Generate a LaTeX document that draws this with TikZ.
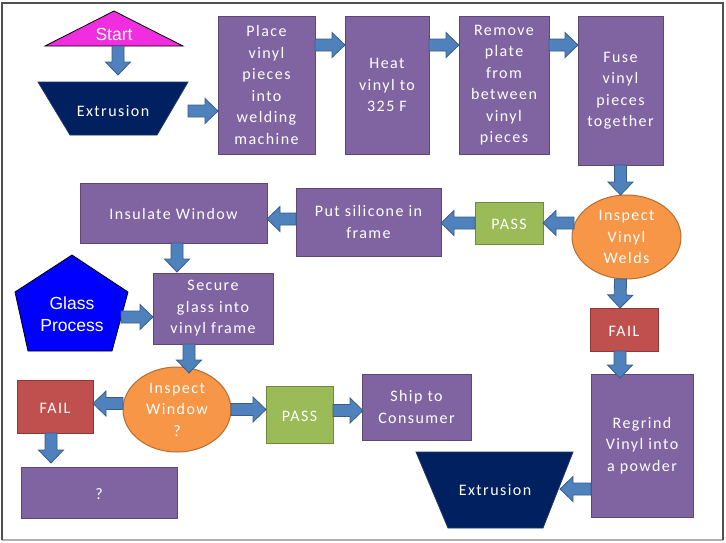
\documentclass[tikz,border=0pt]{standalone}
\usepackage{fontspec}
\setmainfont{Carlito}
\newfontfamily\lblfont[LetterSpace=9]{Carlito}
\newfontfamily\arialfont{Liberation Sans}
\usetikzlibrary{calc,shapes.geometric}
\definecolor{boxpurple}{HTML}{8064A2}
\definecolor{boxpurpleedge}{HTML}{5C4776}
\definecolor{passgreen}{HTML}{9BBB59}
\definecolor{passgreenedge}{HTML}{71893F}
\definecolor{failred}{HTML}{C0504D}
\definecolor{failrededge}{HTML}{8C3836}
\definecolor{inspectorange}{HTML}{F79646}
\definecolor{inspectorangeedge}{HTML}{B66D31}
\definecolor{extnavy}{HTML}{002060}
\definecolor{extnavyedge}{HTML}{1F3864}
\definecolor{startmagenta}{RGB}{240,46,224}
\definecolor{glassblue}{HTML}{0000FF}
\definecolor{arrowblue}{HTML}{4F81BD}
\definecolor{arrowedge}{HTML}{385D8A}
\definecolor{framedark}{HTML}{505050}
\definecolor{framelight}{HTML}{B0B0B0}
\tikzset{
  every node/.style={inner sep=0pt, outer sep=0pt},
  lbl/.style={text=white, align=center, font=\lblfont\fontsize{16}{21.5}\selectfont,
    execute at begin node={\rule{0pt}{14pt}}},
  ml/.style={execute at begin node={\rule{0pt}{20pt}}},
  box/.style={lbl, rectangle, fill=boxpurple, draw=boxpurpleedge, line width=1pt},
  passbox/.style={lbl, rectangle, fill=passgreen, draw=passgreenedge, line width=1pt},
  failbox/.style={lbl, rectangle, fill=failred, draw=failrededge, line width=1pt},
  inspect/.style={lbl, ellipse, fill=inspectorange, draw=inspectorangeedge, line width=1pt},
  extshape/.style={fill=extnavy, draw=extnavyedge, line width=0.8pt},
  arialtext/.style={text=white, align=center, font=\arialfont\fontsize{17.5}{21.5}\selectfont},
  barrow/.style={fill=arrowblue, draw=arrowedge, line width=0.8pt, line join=miter},
}
\newcommand\blockarrow[2]{%
  \coordinate (ba1) at (#1);
  \coordinate (ba2) at (#2);
  \coordinate (bah) at ($(ba2)!13pt!(ba1)$);
  \filldraw[barrow] ($(ba1)!6pt!90:(ba2)$) -- ($(bah)!6pt!90:(ba2)$) -- ($(bah)!12.5pt!90:(ba2)$) -- (ba2)
    -- ($(bah)!12.5pt!-90:(ba2)$) -- ($(bah)!6pt!-90:(ba2)$) -- ($(ba1)!6pt!-90:(ba2)$) -- cycle;
}
\begin{document}
\begin{tikzpicture}[x=1pt, y=-1pt]
\useasboundingbox (0,0) rectangle (726,542);
\fill[white] (0,0) rectangle (726,542);
% frame
\draw[framelight, line width=1.2pt] (2,540) -- (723,540);
\draw[framedark, line width=1.2pt] (2,540) -- (2,3) -- (723,3) -- (723,540);

% odd shapes
\filldraw[fill=startmagenta, draw=black, line width=0.8pt] (114,11) -- (183,46) -- (45,46) -- cycle;
\node[arialtext] (start) at (114,34) {Start};
\filldraw[extshape] (38,82) -- (188,82) -- (157,135) -- (70,135) -- cycle;
\node[lbl, minimum width=150pt] (ext1) at (113,110) {Extrusion};
\filldraw[fill=glassblue, draw=black, line width=0.8pt] (72,255) -- (128,292) -- (112,351) -- (28,351) -- (15,292) -- cycle;
\node[arialtext, minimum width=98pt] (glass) at (72,314) {Glass\\Process};
\filldraw[extshape] (416,452) -- (573,452) -- (543,528) -- (448,528) -- cycle;
\node[lbl, minimum width=130pt] (ext2) at (495,489) {Extrusion};

% boxes
\node[box, ml, minimum width=97pt, minimum height=138pt] (place) at (266.5,85) {Place\\vinyl\\pieces\\into\\welding\\machine};
\node[box, ml, minimum width=84pt, minimum height=138pt] (heat) at (387,85) {Heat\\vinyl to\\325 F};
\node[box, ml, minimum width=90pt, minimum height=138pt] (remove) at (504,85) {Remove\\plate\\from\\between\\vinyl\\pieces};
\node[box, ml, minimum width=85pt, minimum height=149pt] (fuse) at (620.5,90.5) {Fuse\\vinyl\\pieces\\together};
\node[inspect, ml, minimum width=109pt, minimum height=84pt] (ivw) at (626.5,237) {Inspect\\Vinyl\\Welds};
\node[passbox, minimum width=68pt, minimum height=42pt] (pass1) at (509,223) {PASS};
\node[box, ml, minimum width=145pt, minimum height=68pt] (silicone) at (368.5,222) {Put silicone in\\frame};
\node[box, minimum width=187pt, minimum height=60pt] (insulate) at (173.5,213) {Insulate Window};
\node[box, ml, minimum width=120pt, minimum height=71pt] (secure) at (213,308.5) {Secure\\glass into\\vinyl frame};
\node[inspect, ml, minimum width=108pt, minimum height=85pt] (iw) at (177,409.5) {Inspect\\Window\\?};
\node[failbox, minimum width=76pt, minimum height=53pt] (fail1) at (55,406.5) {FAIL};
\node[box, minimum width=156pt, minimum height=51pt] (qbox) at (99,492.5) {?};
\node[passbox, minimum width=67pt, minimum height=57pt] (pass2) at (299.5,414.5) {PASS};
\node[box, ml, minimum width=109pt, minimum height=66pt] (ship) at (416.5,407) {Ship to\\Consumer};
\node[failbox, minimum width=68pt, minimum height=43pt] (fail2) at (624,329.5) {FAIL};
\node[box, ml, minimum width=102pt, minimum height=143pt] (regrind) at (642,445.5) {Regrind\\Vinyl into\\a powder};

% connectors
\blockarrow{$(start.center)+(4,12)$}{$(ext1.center)+(5,-35)$}
\blockarrow{$(ext1.east)+(0,1)$}{$(place.west |- ext1.east)+(0,1)$}
\blockarrow{$(place.north east)+(0,29)$}{$(heat.north west)+(0,29)$}
\blockarrow{$(heat.north east)+(0,29)$}{$(remove.north west)+(0,29)$}
\blockarrow{$(remove.north east)+(0,29)$}{$(fuse.north west)+(0,29)$}
\blockarrow{fuse.south}{fuse.south |- ivw.north}
\blockarrow{$(ivw.west)+(2,-14)$}{pass1.east}
\blockarrow{pass1.west}{silicone.east |- pass1.west}
\blockarrow{$(silicone.west)+(0,-3)$}{$(insulate.east)+(0,6)$}
\blockarrow{$(insulate.south)+(3.5,0)$}{$(secure.north)+(-36,-1)$}
\blockarrow{$(glass.east)+(0,3)$}{$(secure.west |- glass.east)+(0,3)$}
\blockarrow{$(secure.south)+(-24,0)$}{$(iw.north)+(12,6)$}
\blockarrow{$(iw.west)+(0,-6)$}{$(fail1.east)+(0,-3)$}
\blockarrow{$(fail1.south)+(-4,0)$}{$(qbox.north)+(-48,-4)$}
\blockarrow{iw.east}{pass2.west |- iw.east}
\blockarrow{$(pass2.east)+(0,-4)$}{$(ship.west)+(1,3.5)$}
\blockarrow{$(ivw.south)+(-6,0)$}{$(fail2.north)+(-4,0)$}
\blockarrow{$(fail2.south)+(-4,0)$}{$(regrind.north)+(-22,4)$}
\blockarrow{regrind.west |- ext2.east}{ext2.east}
\end{tikzpicture}
\end{document}
